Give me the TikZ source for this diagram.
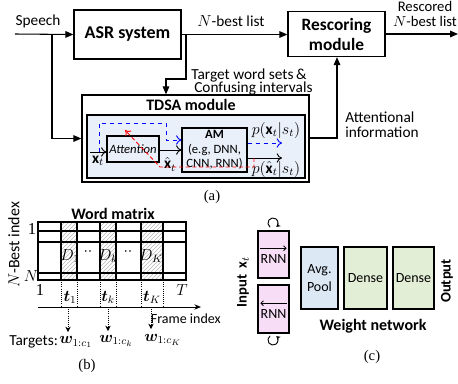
\documentclass[tikz,border=0pt]{standalone}
\usepackage{amsmath}
\usepackage{bm}
\usepackage{fontspec}
\setmainfont{Carlito}
\newfontfamily\capfont{Liberation Serif}
\usetikzlibrary{arrows.meta,patterns,calc}
\newcommand\px[1]{#1*0.75pt}
\definecolor{innerblue}{HTML}{EAF0FA}
\definecolor{rnnpink}{HTML}{F7DDF6}
\definecolor{poolblue}{HTML}{DDE8F5}
\definecolor{densegreen}{HTML}{E3EED6}
\tikzset{
  box/.style={draw, line width=1pt, inner sep=0pt, align=center},
  thinbox/.style={draw, line width=0.8pt, inner sep=0pt, align=center},
  flow/.style={line width=0.8pt, -{Triangle[length=6pt,width=5pt]}},
  openarr/.style={line width=0.7pt, -{To[length=4pt,width=7pt]}},
  lbl/.style={inner sep=0pt, font=\fontsize{11.5}{13}\selectfont},
  mlbl/.style={inner sep=0pt, font=\fontsize{11.5}{13}\selectfont},
  grid/.style={line width=0.9pt},
  hatch/.style={pattern=north east lines, pattern color=gray!55},
  dotline/.style={line width=0.6pt, densely dotted},
  subcap/.style={inner sep=0pt, font=\capfont\fontsize{11}{12}\selectfont},
  dirarrow/.style={line width=0.6pt, -{To[length=2.5pt,width=4pt]}},
}
\begin{document}
\begin{tikzpicture}[x=0.75pt,y=-0.75pt]
\useasboundingbox (0,0) rectangle (458,383);

% ---------------- (a) overall pipeline ----------------
\node[box, minimum width=\px{107}, minimum height=\px{49}, font=\bfseries\fontsize{13.5}{15}\selectfont] (asr) at (127.5,34.5) {ASR system};
\node[box, minimum width=\px{97}, minimum height=\px{45}, font=\bfseries\fontsize{13}{15}\selectfont] (resc) at (336.5,34) {Rescoring\\module};
\node[box, minimum width=\px{227}, minimum height=\px{87}] (tdsa) at (195.5,138.5) {};
\node[thinbox, fill=innerblue, minimum width=\px{218}, minimum height=\px{63}] (inner) at (196,146.5) {};
\node[font=\bfseries\fontsize{12}{14}\selectfont, inner sep=0pt] (tdsatitle) at (191,105) {TDSA module};

\coordinate (speechin) at (15,34);
\coordinate (split) at (52,34);
\coordinate (nsplit) at (186,34);
\coordinate (outend) at (458,34);
\coordinate (attout) at (337,138);

\node[lbl] (speechlbl) at (38,21) {Speech};
\draw[flow] (speechin) -- (asr.west);
\draw[flow] (split) |- (tdsa.west);
\node[lbl] (nbestlbl) at (231,21) {$N$-best list};
\draw[flow] (asr.east) -- (asr.east -| resc.west);
\draw[flow] (nsplit) -- (186,79) -- (166,79) -- (166,79 |- tdsa.north);
\node[lbl, anchor=west] (tw1) at (191,75) {Target word sets\,\&};
\node[lbl, anchor=west] (tw2) at (194,88.5) {Confusing intervals};
\draw[flow] (resc.east) -- (outend);
\node[lbl, font=\fontsize{11}{12}\selectfont] (rs1) at (425,6.5) {Rescored};
\node[lbl, font=\fontsize{11}{12}\selectfont] (rs2) at (425,21.5) {$N$-best list};
\draw[flow] (tdsa.east |- attout) -- (attout) -- (attout |- resc.south);
\node[lbl, anchor=west] (ai1) at (345,117.5) {Attentional};
\node[lbl, anchor=west] (ai2) at (345,132) {information};

% inside TDSA module
\node[thinbox, minimum width=\px{52}, minimum height=\px{26}, font=\itshape\fontsize{9.5}{11}\selectfont] (att) at (133,149) {Attention};
\node[thinbox, minimum width=\px{65}, minimum height=\px{44}, font=\fontsize{9.5}{11}\selectfont] (am) at (214.5,150) {\textbf{AM}\\(e.g,\ DNN,\\CNN, RNN)};
\coordinate (xin) at (90,152);
\coordinate (bluestart) at (99,152);
\coordinate (pxend) at (282,143);
\coordinate (phend) at (282,158);
\coordinate (redstart) at (254,158);
\coordinate (redtip) at (125,130);
\draw[openarr] (xin) -- (att.west |- xin);
\node[mlbl] (xlbl) at (98,161) {$\mathbf{x}_t$};
\draw[openarr] (att.east |- 0,150) -- (am.west |- 0,150);
\node[mlbl] (xhatlbl) at (170,164) {$\hat{\mathbf{x}}_t$};
\draw[openarr, blue, dashed] (bluestart) -- (99,123) -- (166,123) -- (166,140) -- (am.west |- 0,140);
\draw[openarr, blue, dashed] (am.east |- pxend) -- (pxend);
\draw[openarr] (am.east |- phend) -- (phend);
\node[mlbl] (plbl1) at (276,130) {$p(\mathbf{x}_t|s_t)$};
\node[mlbl] (plbl2) at (276,169) {$p(\hat{\mathbf{x}}_t|s_t)$};
\draw[red, densely dashed, line width=0.7pt, -{To[length=4pt,width=6pt]}] (redstart) -- (254,167) -- (160,167) -- (redtip);

\node[subcap] (capa) at (212,197) {(a)};

% ---------------- (b) word matrix ----------------
\node[font=\bfseries\fontsize{12}{14}\selectfont, inner sep=0pt] (wmtitle) at (113,214) {Word matrix};
\fill[white] (38,222) rectangle (186,280);
\foreach \a/\b in {61/77, 100/116, 141/163}
  \fill[hatch] (\a,222) rectangle (\b,280);
\foreach \y in {231,242,273}
  \draw[grid] (38,\y) -- (186,\y);
\foreach \x in {61,77,100,116,141,163}
  \draw[grid] (\x,222) -- (\x,280);
\draw[grid] (38,222) rectangle (186,280);
\node[mlbl] (d1) at (70,256) {$D_1$};
\node[mlbl] (dd1) at (88,252) {$\cdot\cdot$};
\node[mlbl] (dk) at (108,256) {$D_k$};
\node[mlbl] (dd2) at (128,252) {$\cdot\cdot$};
\node[mlbl] (dK) at (151,256) {$D_K$};
\node[inner sep=0pt, font=\capfont\fontsize{12.5}{13}\selectfont] (row1) at (32,229) {1};
\node[mlbl] (rowN) at (31,276) {$N$};
\node[inner sep=0pt, rotate=90, font=\fontsize{12}{14}\selectfont] (nbi) at (14,245) {$N$-Best index};
\node[inner sep=0pt, font=\capfont\fontsize{12.5}{13}\selectfont] (col1) at (40,290) {1};
\node[mlbl] (colT) at (182,290) {$T$};
\foreach \x in {61,77,100,116,141,163}
  \draw[dotline] (\x,280) -- (\x,307);
\node[mlbl] (t1) at (70,297.5) {$\bm{t}_1$};
\node[mlbl] (tk) at (108,297.5) {$\bm{t}_k$};
\node[mlbl] (tK) at (152,297.5) {$\bm{t}_K$};
\coordinate (axstart) at (38,307);
\coordinate (axend) at (201,307);
\draw[line width=0.7pt, -{Stealth[length=5pt,width=4pt]}] (axstart) -- (axend);
\node[inner sep=0pt, anchor=east, font=\fontsize{10.5}{12}\selectfont] (fi) at (221,318.5) {Frame index};
\node[inner sep=0pt, anchor=west, font=\fontsize{11.5}{13}\selectfont] (targ) at (9,342) {Targets:};
\node[mlbl, anchor=west] (w1) at (59,342) {$\bm{w}_{1:c_1}$};
\node[mlbl, anchor=west] (wk) at (99,341) {$\bm{w}_{1:c_k}$};
\node[mlbl, anchor=west] (wK) at (144,340) {$\bm{w}_{1:c_K}$};
\draw[dotline, -{Stealth[length=4pt,width=4pt]}] (68,307) -- (68,332);
\draw[dotline, -{Stealth[length=4pt,width=4pt]}] (108,307) -- (108,331);
\draw[dotline, -{Stealth[length=4pt,width=4pt]}] (151,307) -- (151,329);
\node[subcap] (capb) at (87,366) {(b)};

% ---------------- (c) weight network ----------------
\node[thinbox, fill=rnnpink, minimum width=\px{31}, minimum height=\px{47}] (rnnf) at (273.5,254.5) {};
\node[thinbox, fill=rnnpink, minimum width=\px{31}, minimum height=\px{48}] (rnnb) at (273.5,309) {};
\node[inner sep=0pt, font=\fontsize{10.5}{12}\selectfont] (rnnftxt) at (273.5,259) {RNN};
\node[inner sep=0pt, font=\fontsize{10.5}{12}\selectfont] (rnnbtxt) at (273.5,314) {RNN};
\draw[dirarrow] (rnnftxt.north west) ++(0,-6) coordinate (fa) -- (fa -| rnnftxt.north east);
\draw[dirarrow] (rnnbtxt.north east) ++(0,-6) coordinate (ba) -- (ba -| rnnbtxt.north west);
\node[thinbox, fill=poolblue, minimum width=\px{37}, minimum height=\px{62}, font=\fontsize{10.5}{13}\selectfont] (pool) at (319.5,278) {Avg.\\Pool};
\node[thinbox, fill=densegreen, minimum width=\px{43}, minimum height=\px{62}, font=\fontsize{10.5}{13}\selectfont] (dense1) at (365.5,278) {Dense};
\node[thinbox, fill=densegreen, minimum width=\px{41}, minimum height=\px{62}, font=\fontsize{10.5}{13}\selectfont] (dense2) at (413.5,278) {Dense};
% recurrent self-loops of the two RNN layers
\coordinate (loopt) at (273,223);
\coordinate (loopb) at (273,340);
\draw[line width=0.7pt, -{Stealth[length=3pt,width=3.5pt]}] ($(loopt)+(235:3.8pt)$) arc[start angle=235, end angle=-50, radius=3.8pt];
\draw[line width=0.7pt, -{Stealth[length=3pt,width=3.5pt]}] ($(loopb)+(125:3.8pt)$) arc[start angle=125, end angle=410, radius=3.8pt];
\node[inner sep=0pt, rotate=90, font=\bfseries\fontsize{11}{13}\selectfont] (inlbl) at (243,282) {Input\ \ x$_t$};
\node[inner sep=0pt, rotate=90, font=\bfseries\fontsize{11}{13}\selectfont] (outlbl) at (447,281) {Output};
\node[inner sep=0pt, font=\bfseries\fontsize{12}{14}\selectfont] (wn) at (373,326.5) {Weight network};
\node[subcap] (capc) at (372,357) {(c)};
\end{tikzpicture}
\end{document}
